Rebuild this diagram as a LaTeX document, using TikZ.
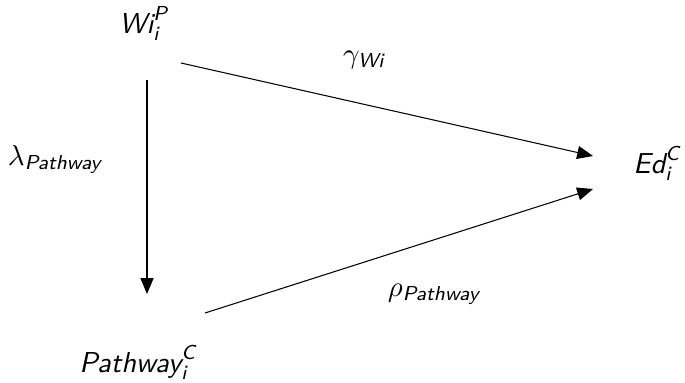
\documentclass[tikz,border=0pt]{standalone}
\usepackage{amsmath}
\usetikzlibrary{arrows.meta}

\newcommand{\sfit}[1]{\textsf{\slshape #1}}

\begin{document}
\begin{tikzpicture}[x = 0.02cm, y = -0.02cm, > = {Triangle[length = 9pt, width = 7.4pt]},
	every node/.style = {anchor = base, inner sep = 0pt, scale = 1.64, transform shape},
	link/.style = {->, line width = 0.6pt}]

	\useasboundingbox (0, 0) rectangle (685, 382);

	% Variables
	
	\node (wi) at (144, 33) {$\sfit{Wi}_{\sfit{i}}^{\sfit{P}}$};
	\node (ed) at (657, 173) {$\sfit{Ed}_{\sfit{i}}^{\sfit{C}}$};
	\node (path) at (138, 372) {$\sfit{Pathway}_{\sfit{i}}^{\sfit{C}}$};
	
	% Coefficients
	
	\node (lam) at (55, 165) {$\lambda_{\sfit{Pathway}}$};
	\node (gam) at (364, 63) {$\gamma_{\sfit{Wi}}$};
	\node (rho) at (434, 296) {$\rho_{\sfit{Pathway}}$};
	
	% Paths
	
	\draw [link] ([shift = {(37, 30)}] wi.base) -- ([shift = {(-64, -17)}] ed.base);
	\draw [link] ([shift = {(3, 47)}] wi.base) -- ([shift = {(9, -78)}] path.base);
	\draw [link] ([shift = {(67, -59)}] path.base) -- ([shift = {(-64, 16)}] ed.base);

\end{tikzpicture}
\end{document}
